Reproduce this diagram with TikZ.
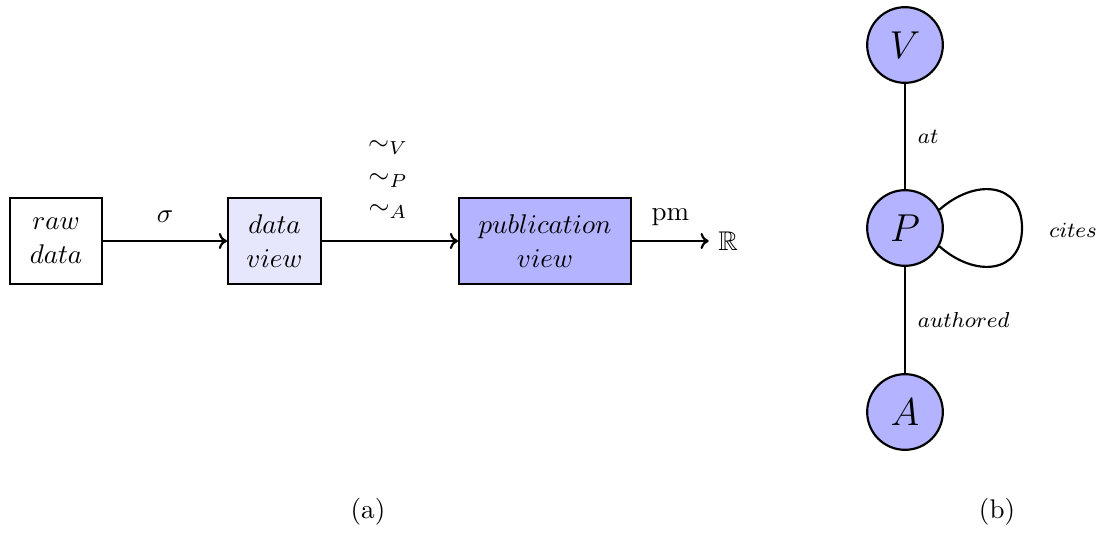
\documentclass[tikz,border=0pt]{standalone}
\usepackage{amssymb}
\usetikzlibrary{arrows.meta}
\definecolor{viewlight}{RGB}{230,230,252}
\definecolor{viewdark}{RGB}{179,179,255}
\tikzset{
  box/.style={draw, thick, minimum height=32pt, inner sep=0pt, align=center},
  ent/.style={draw, thick, circle, fill=viewdark, minimum size=28pt, inner sep=0pt, font=\Large},
  flow/.style={thick, -{To[length=3pt,width=6pt]}},
  rel/.style={thick},
  rellabel/.style={font=\footnotesize},
}
\begin{document}
\begin{tikzpicture}[x=0.37pt, y=-0.37pt]
  \useasboundingbox (0,0) rectangle (1102,533);

  % (a) pipeline from raw data to a score
  \node[box, minimum width=34pt] (raw) at (56,241) {$raw$\\[0.5pt]$data$};
  \node[box, minimum width=34.4pt, fill=viewlight] (dv) at (274.5,241) {$data$\\[0.5pt]$view$};
  \node[box, minimum width=63.6pt, fill=viewdark] (pv) at (545,241) {$publication$\\[0.5pt]$view$};
  \node (R) at (728,241) {$\mathbb{R}$};

  \draw[flow] (raw) -- node[above=3pt] {$\sigma$} (dv);
  \draw[flow] (dv) -- (pv);
  \node (simV) at (388,148) {$\sim_V$};
  \node (simP) at (388,181) {$\sim_P$};
  \node (simA) at (388,212) {$\sim_A$};
  \draw[flow] (pv.east) -- node[above=2pt] {pm} (pv.east -| R.west);

  \node (capa) at (368,512) {(a)};

  % (b) schema graph
  \node[ent] (V) at (905,45) {$V$};
  \node[ent] (P) at (905,228) {$P$};
  \node[ent] (A) at (905,412) {$A$};

  \draw[rel] (V) -- node[right=1pt, rellabel] {$at$} (P);
  \draw[rel] (P) -- node[right=1pt, rellabel] {$authored$} (A);
  \draw[rel] (P.28) .. controls (975,178) and (1022,182) .. (1022,228)
                    .. controls (1022,274) and (975,278) .. (P.-28);
  \node[rellabel] (cites) at (1073,230) {$cites$};

  \node (capb) at (997,512) {(b)};
\end{tikzpicture}
\end{document}
